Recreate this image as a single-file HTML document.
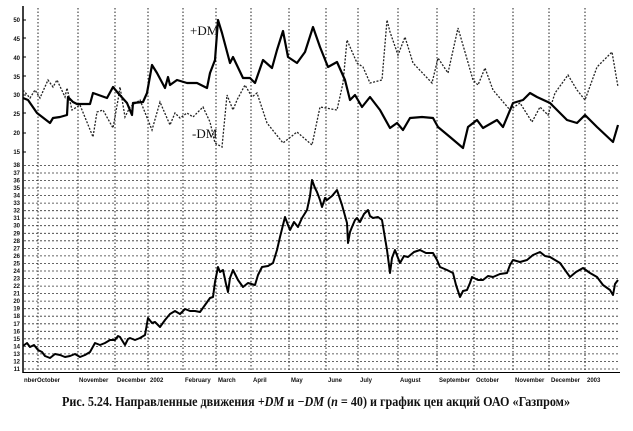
<!DOCTYPE html>
<html><head><meta charset="utf-8"><style>
html,body{margin:0;padding:0;background:#fff;width:633px;height:431px;overflow:hidden}
svg{display:block}
.t{font-family:"Liberation Sans",sans-serif;font-size:6px;font-weight:bold;fill:#111}
</style></head><body>
<svg width="633" height="431" viewBox="0 0 633 431" xmlns="http://www.w3.org/2000/svg">
<g stroke="#222" stroke-width="1" stroke-dasharray="1.5,2" fill="none">
<path d="M38 8V372M78 8V372M115 8V372M148 8V372M183 8V372M216 8V372M251 8V372M289 8V372M326 8V372M358 8V372M398 8V372M437 8V372M474 8V372M513 8V372M549 8V372M585 8V372"/>
</g>
<g stroke="#333" stroke-width="0.8" stroke-dasharray="2,2" fill="none">
<path d="M24 369H620M24 361.5H620M24 353.9H620M24 346.4H620M24 338.8H620M24 331.3H620M24 323.8H620M24 316.2H620M24 308.7H620M24 301.1H620M24 293.6H620M24 286.1H620M24 278.5H620M24 271H620M24 263.4H620M24 255.9H620M24 248.4H620M24 240.8H620M24 233.3H620M24 225.7H620M24 218.2H620M24 210.7H620M24 203.1H620M24 195.6H620M24 188H620M24 180.5H620M24 173H620M24 165.4H620"/>
</g>
<line x1="23" y1="6" x2="23" y2="373" stroke="#000" stroke-width="1.5"/>
<line x1="23" y1="372.5" x2="620" y2="372.5" stroke="#000" stroke-width="1"/>
<g class="t" text-anchor="end">
<text x="20" y="22">50</text><text x="20" y="41">45</text><text x="20" y="60">40</text><text x="20" y="79">35</text><text x="20" y="97">30</text><text x="20" y="116">25</text><text x="20" y="135">20</text><text x="20" y="154">15</text>
<text x="20" y="167">38</text>
<text x="20" y="175">37</text><text x="20" y="182.5">36</text><text x="20" y="190">35</text><text x="20" y="197.6">34</text><text x="20" y="205.1">33</text><text x="20" y="212.7">32</text><text x="20" y="220.2">31</text><text x="20" y="227.7">30</text><text x="20" y="235.3">29</text><text x="20" y="242.8">28</text><text x="20" y="250.4">27</text><text x="20" y="257.9">26</text><text x="20" y="265.4">25</text><text x="20" y="273">24</text><text x="20" y="280.5">23</text><text x="20" y="288.1">22</text><text x="20" y="295.6">21</text><text x="20" y="303.1">20</text><text x="20" y="310.7">19</text><text x="20" y="318.2">18</text><text x="20" y="325.8">17</text><text x="20" y="333.3">16</text><text x="20" y="340.8">15</text><text x="20" y="348.4">14</text><text x="20" y="355.9">13</text><text x="20" y="363.5">12</text><text x="20" y="371">11</text>
</g>
<g stroke="#000" stroke-width="1">
<path d="M23 20h3M23 38h3M23 57h3M23 76h3M23 95h3M23 113h3M23 133h3M23 152h3"/>
</g>
<polyline fill="none" stroke="#222" stroke-width="1.3" stroke-dasharray="2,1.5" points="23,90 30,98 35,90 40,98 48,80 53,87 57,80 65,97 67,88 72,110 80,105 93,137 97,112 103,110 113,128 118,100 120,87 125,117 130,107 140,100 152,130 160,102 170,125 175,113 180,118 187,113 193,117 203,107 210,122 215,143 222,147 227,95 233,110 237,100 245,85 252,97 257,93 267,123 283,143 297,132 312,145 320,107 337,110 343,83 347,40 357,63 363,67 370,83 382,80 387,20 390,32 398,55 405,37 413,63 432,83 438,58 448,73 458,28 465,52 473,80 478,85 485,68 493,90 510,110 520,103 532,122 540,107 548,115 555,93 568,75 577,90 585,100 597,67 612,52 618,87"/>
<polyline fill="none" stroke="#000" stroke-width="2.2" stroke-linejoin="round" points="23,98 28,100 37,113 50,123 53,118 60,117 67,115 68,97 73,102 77,104 90,104 93,93 107,98 113,87 118,93 127,103 132,115 133,103 143,102 147,93 152,65 157,73 165,88 168,77 170,85 177,80 187,83 197,83 207,88 210,73 215,60 218,20 222,33 230,63 233,57 243,78 250,78 255,83 263,60 272,68 277,50 283,31 288,57 297,63 305,52 313,27 320,47 328,67 337,62 345,80 350,100 355,95 362,107 370,97 380,110 390,128 397,123 403,130 410,118 422,117 433,118 438,127 450,137 463,148 468,127 477,120 483,128 497,120 503,127 513,103 523,100 530,93 537,97 550,103 567,120 577,123 585,115 597,127 613,142 618,125"/>
<polyline fill="none" stroke="#000" stroke-width="2" stroke-linejoin="round" points="23,346 27,343 30,347 34,345 38,350 42,352 45,356 50,358 55,354 60,355 65,357 70,356 75,354 80,357 85,355 90,352 95,343 100,345 105,343 110,340 115,340 118,336 120,337 125,345 128,339 130,338 135,340 140,338 145,335 148,318 152,323 155,322 160,327 165,320 170,314 175,311 180,314 185,309 190,311 195,311 200,312 205,305 210,298 213,297 215,282 218,267 220,272 223,270 226,284 228,292 230,278 233,270 238,280 243,287 248,283 255,285 258,275 262,267 268,266 273,263 277,250 280,237 285,217 288,225 290,230 294,222 298,227 302,218 307,210 310,196 312,180 315,188 317,192 320,200 322,207 325,198 327,200 332,196 337,190 342,205 347,223 348,243 350,232 352,227 355,220 357,218 360,222 364,214 368,210 370,216 373,218 378,217 382,220 385,238 387,250 389,265 390,273 392,258 395,250 398,258 400,263 404,256 408,257 414,252 420,250 426,253 433,253 437,260 440,267 447,270 453,273 456,285 460,297 463,291 467,290 470,283 472,277 478,280 483,280 488,276 493,277 500,274 507,273 510,265 513,260 520,262 527,260 533,255 540,252 545,256 550,257 555,260 560,263 565,270 570,277 576,272 583,268 590,273 597,277 603,285 610,290 613,295 615,284 618,280"/>
<text x="190" y="35" font-family="Liberation Serif,serif" font-size="13" fill="#111">+DM</text>
<text x="192" y="138" font-family="Liberation Serif,serif" font-size="13" fill="#111">-DM</text>
<g class="t">
<text x="24" y="382">nberOctober</text><text x="79" y="382">November</text><text x="117" y="382">December</text><text x="150" y="382">2002</text><text x="185" y="382">February</text><text x="218" y="382">March</text><text x="253" y="382">April</text><text x="291" y="382">May</text><text x="328" y="382">June</text><text x="360" y="382">July</text><text x="400" y="382">August</text><text x="439" y="382">September</text><text x="476" y="382">October</text><text x="515" y="382">November</text><text x="551" y="382">December</text><text x="587" y="382">2003</text>
</g>
<text x="62" y="406" textLength="508" lengthAdjust="spacingAndGlyphs" font-family="Liberation Serif,'Noto Serif CJK SC',serif" font-size="13.5" font-weight="bold" fill="#111">Рис. 5.24. Направленные движения <tspan font-style="italic">+DM</tspan> и <tspan font-style="italic">−DM</tspan> (<tspan font-style="italic">n</tspan> = 40) и график цен акций ОАО «Газпром»</text>
</svg>
</body></html>
